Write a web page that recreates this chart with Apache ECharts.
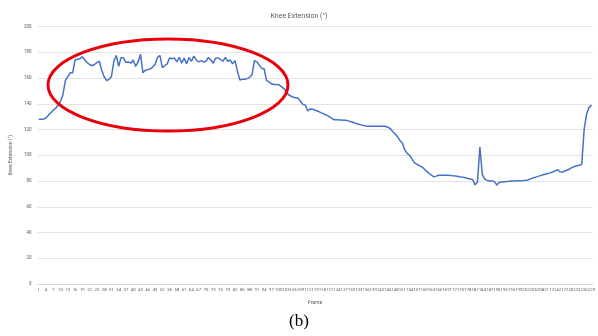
<!DOCTYPE html>
<html>
<head>
<meta charset="utf-8">
<script src="https://cdn.jsdelivr.net/npm/echarts@6/dist/echarts.min.js"></script>
<style>
  html, body { margin: 0; padding: 0; background: #fff; }
  #chart { width: 598px; height: 336px; }
</style>
</head>
<body>
<div id="chart"></div>
<script>
// Knee extension angle (degrees) for each video frame
const frames = [];
for (let f = 1; f <= 229; f++) frames.push(String(f));

const kneeExtension = [
  128, 128, 128, 129, 131, 133, 135, 136.5, 139, 142,
  147, 158, 161, 164, 164, 174, 174.5, 175, 176.5, 174,
  172, 170.5, 169.5, 170.5, 172, 173, 166, 161, 158, 159,
  161, 173, 177.5, 169, 176, 175.5, 172, 172.5, 171.5, 174,
  169, 172.5, 178.5, 164, 166, 166.5, 167, 168.5, 170.5, 176,
  177.5, 168, 169.5, 171, 175.5, 175, 175.5, 172.5, 176, 171.5,
  175.5, 171, 176, 173, 177, 174, 172.5, 173.5, 172.5, 173,
  176, 174, 171.5, 175.5, 175.5, 174.5, 173, 176, 173, 174,
  171, 173.5, 165, 158.5, 159, 159, 159.5, 160.5, 162.5, 173.5,
  172.5, 170, 167.5, 167, 158, 157, 155.5, 155, 155, 154.8,
  153.5, 152, 150, 147, 146, 145, 144.7, 144.2, 142, 139.5,
  138.8, 134.4, 136, 135.7, 135, 134.4, 133.5, 132.5, 131.8, 131,
  129.8, 128.5, 127.6, 127.5, 127.4, 127.3, 127.2, 127.1, 126.5, 126,
  125.2, 124.6, 124.1, 123.6, 123.1, 122.7, 122.6, 122.6, 122.6, 122.5,
  122.5, 122.5, 122.5, 122.5, 121.8, 120.7, 118.5, 116.5, 114.5, 111.5,
  109.5, 104, 101.5, 100, 97, 94.3, 93, 92, 91, 89.5,
  87.5, 86, 84.5, 83.2, 83.8, 84.5, 84.5, 84.5, 84.5, 84.5,
  84.3, 84, 83.8, 83.5, 83.2, 83, 82.5, 82, 81.6, 81.2,
  77, 79.3, 106.4, 85, 81.5, 80.5, 80, 80, 79.5, 76.8,
  79, 79.3, 79.5, 79.7, 79.8, 80, 80, 80, 80.1, 80.2,
  80.3, 80.5, 81, 81.8, 82.4, 83, 83.6, 84.2, 84.8, 85.3,
  85.8, 86.3, 87, 87.8, 88.8, 87.2, 87, 87.8, 88.5, 89.3,
  90.5, 91.2, 91.8, 92.3, 92.8, 120, 132, 137, 139
];

const yTicks = { min: 0, max: 200, interval: 20 };

const chart = echarts.init(document.getElementById('chart'), null, { renderer: 'canvas' });

chart.setOption({
  animation: false,
  backgroundColor: '#ffffff',
  title: {
    text: 'Knee Extension (°)',
    left: 'center',
    top: 8,
    textStyle: { fontFamily: 'Roboto', fontSize: 7, fontWeight: 'normal', color: '#595959' }
  },
  grid: { left: 23, right: 1, top: 26.5, bottom: 52 },
  xAxis: {
    type: 'category',
    data: frames,
    boundaryGap: true,
    name: 'Frame',
    nameLocation: 'middle',
    nameGap: 16,
    nameTextStyle: { fontFamily: 'Roboto', fontSize: 5, color: '#595959' },
    axisLine: { lineStyle: { color: '#d9d9d9', width: 1 } },
    axisTick: { show: false },
    axisLabel: {
      interval: 2,
      fontFamily: 'Roboto',
      fontSize: 4.3,
      color: '#595959',
      margin: 4
    },
    splitLine: { show: false }
  },
  yAxis: {
    type: 'value',
    min: yTicks.min,
    max: yTicks.max,
    interval: yTicks.interval,
    name: 'Knee Extension (°)',
    nameLocation: 'middle',
    nameGap: 16,
    nameRotate: 90,
    nameTextStyle: { fontFamily: 'Roboto', fontSize: 5, color: '#595959' },
    axisLine: { show: false },
    axisTick: { show: false },
    axisLabel: { fontFamily: 'Roboto', fontSize: 4.5, color: '#595959', margin: 6 },
    splitLine: { lineStyle: { color: '#e3e3e3', width: 1 } }
  },
  series: [{
    type: 'line',
    data: kneeExtension,
    showSymbol: false,
    smooth: false,
    lineStyle: { color: '#4472c4', width: 1.5 },
    itemStyle: { color: '#4472c4' }
  }],
  graphic: [
    {
      type: 'ellipse',
      shape: { cx: 168, cy: 85, rx: 120, ry: 46 },
      style: { fill: 'none', stroke: '#e8000b', lineWidth: 3 },
      z: 100
    },
    {
      type: 'text',
      left: 'center',
      top: 313,
      style: {
        text: '(b)',
        fontFamily: 'Liberation Serif',
        fontSize: 17,
        fill: '#000000'
      }
    }
  ]
});
</script>
</body>
</html>
